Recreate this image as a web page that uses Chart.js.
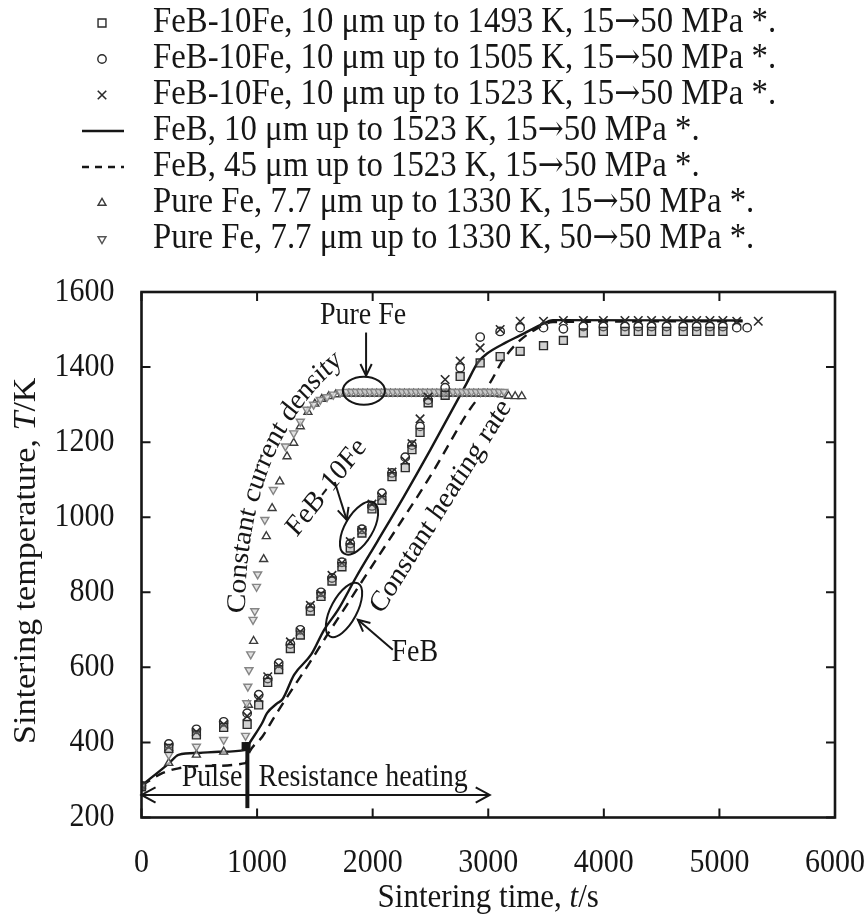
<!DOCTYPE html>
<html>
<head>
<meta charset="utf-8">
<script src="https://cdn.jsdelivr.net/npm/chart.js@4/dist/chart.umd.min.js"></script>
<style>
  html, body { margin: 0; padding: 0; background: #fff; }
  #wrap { width: 866px; height: 916px; }
</style>
</head>
<body>
<div id="wrap"><canvas id="c" width="866" height="916"></canvas></div>
<script>
// ---- axes ----
const X_MIN = 0, X_MAX = 6000, X_STEP = 1000;
const Y_MIN = 200, Y_MAX = 1600, Y_STEP = 200;

// ---- FeB-10Fe, 10 µm, up to 1493 K ----
const sq_t = [0, 236, 475, 711, 914, 1014, 1092, 1187, 1288, 1374, 1461, 1553, 1648, 1734, 1806, 1907, 1994, 2080, 2167, 2282, 2340, 2410, 2480, 2627, 2757, 2930, 3103, 3276, 3478, 3650, 3823, 3996, 4183, 4298, 4413, 4543, 4687, 4803, 4918, 5030];
const sq_T = [282, 384, 420, 440, 448, 500, 560, 594, 650, 686, 750, 789, 830, 868, 918, 958, 1022, 1045, 1108, 1132, 1180, 1226, 1305, 1325, 1375, 1411, 1428, 1442, 1457, 1471, 1491, 1495, 1495, 1495, 1495, 1495, 1495, 1495, 1495, 1495];

// ---- FeB-10Fe, 10 µm, up to 1505 K ----
const ci_t = [0, 236, 475, 711, 914, 1014, 1092, 1187, 1288, 1374, 1461, 1553, 1648, 1734, 1806, 1907, 1994, 2080, 2167, 2282, 2340, 2410, 2480, 2627, 2757, 2930, 3103, 3276, 3478, 3650, 3823, 3996, 4183, 4298, 4413, 4543, 4687, 4803, 4918, 5030, 5150, 5240];
const ci_T = [285, 396, 435, 455, 478, 527, 570, 611, 662, 700, 760, 800, 838, 880, 930, 968, 1030, 1064, 1118, 1160, 1192, 1242, 1312, 1345, 1398, 1480, 1495, 1505, 1505, 1502, 1508, 1508, 1508, 1508, 1508, 1508, 1508, 1508, 1508, 1508, 1505, 1505];

// ---- FeB-10Fe, 10 µm, up to 1523 K ----
const cr_t = [0, 236, 475, 711, 914, 1014, 1092, 1187, 1288, 1374, 1461, 1553, 1648, 1734, 1806, 1907, 1994, 2080, 2167, 2282, 2340, 2410, 2480, 2627, 2757, 2930, 3103, 3276, 3478, 3650, 3823, 3996, 4183, 4298, 4413, 4543, 4687, 4803, 4918, 5030, 5150, 5336];
const cr_T = [285, 388, 428, 448, 470, 518, 575, 605, 668, 695, 765, 795, 845, 878, 935, 965, 1035, 1055, 1120, 1150, 1196, 1262, 1320, 1367, 1416, 1451, 1500, 1522, 1522, 1524, 1524, 1524, 1524, 1524, 1524, 1524, 1524, 1524, 1524, 1524, 1522, 1522];

// ---- FeB, 10 µm (solid line) ----
const feb10_t = [0, 240, 320, 500, 670, 900, 930, 1043, 1086, 1173, 1220, 1320, 1470, 1580, 1700, 1860, 2040, 2270, 2500, 2815, 2910, 2990, 3150, 3280, 3450, 3560, 5200];
const feb10_T = [285, 345, 367, 372, 375, 380, 396, 451, 478, 504, 515, 580, 635, 700, 753, 842, 935, 1055, 1180, 1358, 1412, 1436, 1465, 1485, 1512, 1525, 1524];

// ---- FeB, 45 µm (dashed line) ----
const feb45_t = [0, 180, 320, 520, 900, 935, 1045, 1150, 1300, 1450, 1600, 1780, 1920, 2150, 2500, 2840, 3015, 3130, 3250, 3390, 3560, 5200];
const feb45_T = [285, 318, 331, 337, 345, 375, 415, 468, 540, 610, 683, 768, 835, 943, 1110, 1287, 1358, 1420, 1464, 1497, 1520, 1522];

// ---- Pure Fe, 7.7 µm, 15→50 MPa ----
const fe15_t = [0, 236, 475, 711, 905, 925, 970, 1057, 1080, 1130, 1196, 1259, 1317, 1374, 1440, 1500, 1560, 1620, 1680, 1740,
  1795, 1835, 1875, 1915, 1955, 1995, 2035, 2075, 2115, 2155, 2195, 2235, 2275, 2315, 2355, 2395, 2435, 2475, 2515, 2555,
  2595, 2635, 2675, 2715, 2755, 2795, 2835, 2875, 2915, 2955, 2995, 3035, 3075, 3115, 3175, 3233, 3290];
const fe15_T = [285, 345, 367, 375, 385, 500, 670, 888, 949, 1024, 1095, 1162, 1198, 1242, 1280, 1302, 1315, 1322, 1327, 1329,
  1329, 1329, 1329, 1329, 1329, 1329, 1329, 1329, 1329, 1329, 1329, 1329, 1329, 1329, 1329, 1329, 1329, 1329, 1329, 1329,
  1329, 1329, 1329, 1329, 1329, 1329, 1329, 1329, 1329, 1329, 1329, 1329, 1329, 1327, 1323, 1322, 1322];

// ---- Pure Fe, 7.7 µm, 50→50 MPa ----
const fe50_t = [0, 236, 475, 711, 900, 910, 920, 930, 945, 965, 980, 995, 1005, 1067, 1140, 1245, 1317, 1374, 1430, 1489, 1547, 1605, 1660, 1720,
  1775, 1815, 1855, 1895, 1935, 1975, 2015, 2055, 2095, 2135, 2175, 2215, 2255, 2295, 2335, 2375, 2415, 2455, 2495, 2535,
  2575, 2615, 2655, 2695, 2735, 2775, 2815, 2855, 2895, 2935, 2975, 3015, 3055, 3095, 3135];
const fe50_T = [285, 367, 389, 407, 418, 505, 549, 593, 635, 727, 750, 815, 848, 993, 1073, 1189, 1224, 1255, 1287, 1300, 1313, 1320, 1327, 1333,
  1334, 1334, 1334, 1334, 1334, 1334, 1334, 1334, 1334, 1334, 1334, 1334, 1334, 1334, 1334, 1334, 1334, 1334, 1334, 1334,
  1334, 1334, 1334, 1334, 1334, 1334, 1334, 1334, 1334, 1334, 1334, 1334, 1334, 1334, 1334];

const legendLabels = [
  'FeB-10Fe, 10 μm up to 1493 K, 15→50 MPa *.',
  'FeB-10Fe, 10 μm up to 1505 K, 15→50 MPa *.',
  'FeB-10Fe, 10 μm up to 1523 K, 15→50 MPa *.',
  'FeB, 10 μm up to 1523 K, 15→50 MPa *.',
  'FeB, 45 μm up to 1523 K, 15→50 MPa *.',
  'Pure Fe, 7.7 μm up to 1330 K, 15→50 MPa *.',
  'Pure Fe, 7.7 μm up to 1330 K, 50→50 MPa *.'
];

const SERIF = '"Liberation Serif", "Times New Roman", serif';
const ARROW_FONT = '"DejaVu Serif", "DejaVu Sans", serif';
const INK = '#161616';
const SY = 1.1;   // the lettering is set slightly tall and narrow

const pts = (t, T) => t.map((v, i) => ({ x: v, y: T[i] }));

function markerSet(label, t, T, style) {
  return Object.assign({
    label, data: pts(t, T), showLine: false, order: 1,
    borderWidth: 1.4, pointBorderWidth: 1.4, pointHoverRadius: 0,
    backgroundColor: 'rgba(255,255,255,0)'
  }, style);
}
function lineSet(label, t, T, dash) {
  return {
    label, data: pts(t, T), showLine: true, order: 4,
    borderColor: INK, borderWidth: 2.4, borderDash: dash,
    pointRadius: 0, tension: 0.25, cubicInterpolationMode: 'monotone'
  };
}

const datasets = [
  markerSet(legendLabels[0], sq_t, sq_T, { pointStyle: 'rect', pointRadius: 5.6, borderColor: '#2a2a2a', pointBackgroundColor: 'rgba(140,140,140,0.4)' }),
  markerSet(legendLabels[1], ci_t, ci_T, { pointStyle: 'circle', pointRadius: 4.2, borderColor: '#2a2a2a', pointBackgroundColor: 'rgba(255,255,255,0)' }),
  markerSet(legendLabels[2], cr_t, cr_T, { pointStyle: 'crossRot', pointRadius: 6, borderColor: '#2a2a2a', pointBorderWidth: 1.6 }),
  lineSet(legendLabels[3], feb10_t, feb10_T, []),
  lineSet(legendLabels[4], feb45_t, feb45_T, [10, 7]),
  markerSet(legendLabels[5], fe15_t, fe15_T, { pointStyle: 'triangle', pointRadius: 4.6, borderColor: '#3c3c3c', pointBackgroundColor: 'rgba(255,255,255,0.6)', order: 3 }),
  markerSet(legendLabels[6], fe50_t, fe50_T, { pointStyle: 'triangle', pointRotation: 180, pointRadius: 4.6, borderColor: '#858585', pointBackgroundColor: 'rgba(220,220,220,0.85)', order: 2 })
];

// ---- annotations, anchored in data units (angles as seen on the page) ----
const notes = [
  { kind: 'text', text: 'Pure Fe', t: 1917, T: 1535, size: 28 },
  { kind: 'arrow', from: [1943, 1492], to: [1943, 1377] },
  { kind: 'ellipse', t: 1924, T: 1337, rx: 21, ry: 14, rot: 0 },
  { kind: 'curve', text: 'Constant current density', p0: [832, 748], c: [849, 1207], p2: [1700, 1425], size: 27 },
  { kind: 'text', text: 'FeB-10Fe', t: 1602, T: 1079, rot: -52, size: 27 },
  { kind: 'arrow', from: [1672, 1094], to: [1775, 993] },
  { kind: 'ellipse', t: 1882, T: 971, rx: 29.5, ry: 14, rot: -60 },
  { kind: 'ellipse', t: 1752, T: 753, rx: 30, ry: 13, rot: -62 },
  { kind: 'arrow', from: [2174, 647], to: [1872, 727] },
  { kind: 'text', text: 'FeB', t: 2364, T: 639, size: 28 },
  { kind: 'text', text: 'Constant heating rate', t: 2591, T: 1028, rot: -58, size: 27 },
  { kind: 'text', text: 'Pulse', t: 610, T: 305, size: 28 },
  { kind: 'text', text: 'Resistance heating', t: 1917, T: 305, size: 28 },
  { kind: 'darrow', from: [0, 260], to: [3013, 260] },
  { kind: 'bar', t: 916, from: 401, to: 225, width: 4 },
  { kind: 'block', t: 905, T: 389, size: 9 }
];

function arrowHead(ctx, x0, y0, x1, y1, len, ang) {
  const a = Math.atan2(y1 - y0, x1 - x0);
  ctx.beginPath();
  ctx.moveTo(x1 - len * Math.cos(a - ang), y1 - len * Math.sin(a - ang));
  ctx.lineTo(x1, y1);
  ctx.lineTo(x1 - len * Math.cos(a + ang), y1 - len * Math.sin(a + ang));
  ctx.stroke();
}

// text at a page point, at a page angle, in tall lettering
function tallText(ctx, str, px, py, deg, align) {
  const th = (deg || 0) * Math.PI / 180;
  const th0 = Math.atan2(Math.sin(th) / SY, Math.cos(th));
  ctx.save();
  ctx.translate(px, py); ctx.scale(1, SY); ctx.rotate(th0);
  ctx.textAlign = align || 'center'; ctx.textBaseline = 'middle';
  ctx.fillText(str, 0, 0);
  ctx.restore();
}

// text laid along a quadratic curve given in page pixels
function textOnQuad(ctx, text, p0, c, p2) {
  const q = p => [p[0], p[1] / SY];
  const a0 = q(p0), ac = q(c), a2 = q(p2);
  const N = 400, P = [], S = [0];
  for (let i = 0; i <= N; i++) {
    const u = i / N, v = 1 - u;
    P.push([v * v * a0[0] + 2 * u * v * ac[0] + u * u * a2[0], v * v * a0[1] + 2 * u * v * ac[1] + u * u * a2[1]]);
    if (i) S.push(S[i - 1] + Math.hypot(P[i][0] - P[i - 1][0], P[i][1] - P[i - 1][1]));
  }
  ctx.save();
  ctx.scale(1, SY);
  const L = S[N], W = ctx.measureText(text).width;
  let s = (L - W) / 2;
  ctx.textAlign = 'center'; ctx.textBaseline = 'middle';
  for (const ch of text) {
    const w = ctx.measureText(ch).width, m = s + w / 2;
    let k = 1; while (k < N && S[k] < m) k++;
    const f = (m - S[k - 1]) / ((S[k] - S[k - 1]) || 1);
    const x = P[k - 1][0] + f * (P[k][0] - P[k - 1][0]);
    const y = P[k - 1][1] + f * (P[k][1] - P[k - 1][1]);
    const a = Math.atan2(P[k][1] - P[k - 1][1], P[k][0] - P[k - 1][0]);
    ctx.save(); ctx.translate(x, y); ctx.rotate(a); ctx.fillText(ch, 0, 0); ctx.restore();
    s += w;
  }
  ctx.restore();
}

// axis titles with an italic symbol
function richText(ctx, parts, size, cx, cy, rot) {
  ctx.save();
  ctx.translate(cx, cy); ctx.scale(1, SY); ctx.rotate(rot || 0);
  ctx.textBaseline = 'middle'; ctx.textAlign = 'left';
  const fonts = parts.map(p => (p.it ? 'italic ' : '') + size + 'px ' + SERIF);
  let W = 0;
  parts.forEach((p, i) => { ctx.font = fonts[i]; W += ctx.measureText(p.s).width; });
  let x = -W / 2;
  parts.forEach((p, i) => { ctx.font = fonts[i]; ctx.fillText(p.s, x, 0); x += ctx.measureText(p.s).width; });
  ctx.restore();
}

// legend label: serif text with the arrow glyph taken from DejaVu
function legendText(ctx, str, x, cy, size) {
  ctx.save();
  ctx.translate(x, cy); ctx.scale(1, SY);
  ctx.textAlign = 'left'; ctx.textBaseline = 'middle';
  const parts = str.split('→');
  let px = 0;
  parts.forEach((p, i) => {
    ctx.font = size + 'px ' + SERIF;
    ctx.fillText(p, px, 0); px += ctx.measureText(p).width;
    if (i < parts.length - 1) {
      ctx.font = (size * 0.95) + 'px ' + ARROW_FONT;
      ctx.fillText('→', px, 0); px += ctx.measureText('→').width;
    }
  });
  ctx.restore();
}

const framePlugin = {
  id: 'frameAndNotes',
  afterDatasetsDraw(chart) {
    const { ctx, chartArea: a, scales: { x, y } } = chart;
    const X = v => x.getPixelForValue(v), Y = v => y.getPixelForValue(v);
    ctx.save();
    ctx.strokeStyle = INK; ctx.fillStyle = INK; ctx.lineCap = 'butt';

    // plot frame with inward ticks on all four sides
    ctx.lineWidth = 2.6;
    ctx.strokeRect(a.left, a.top, a.right - a.left, a.bottom - a.top);
    ctx.lineWidth = 2;
    const TL = 9;
    x.ticks.forEach(tk => {
      const px = X(tk.value);
      ctx.beginPath(); ctx.moveTo(px, a.bottom); ctx.lineTo(px, a.bottom - TL);
      ctx.moveTo(px, a.top); ctx.lineTo(px, a.top + TL); ctx.stroke();
    });
    y.ticks.forEach(tk => {
      const py = Y(tk.value);
      ctx.beginPath(); ctx.moveTo(a.left, py); ctx.lineTo(a.left + TL, py);
      ctx.moveTo(a.right, py); ctx.lineTo(a.right - TL, py); ctx.stroke();
    });

    // tick labels from the scales' own ticks
    ctx.font = '30px ' + SERIF;
    x.ticks.forEach(tk => tallText(ctx, String(tk.value), X(tk.value), a.bottom + 46, 0, 'center'));
    y.ticks.forEach(tk => tallText(ctx, String(tk.value), a.left - 27, Y(tk.value), 0, 'right'));

    // annotations
    for (const n of notes) {
      ctx.lineWidth = 2;
      if (n.kind === 'text') {
        ctx.font = n.size + 'px ' + SERIF;
        tallText(ctx, n.text, X(n.t), Y(n.T), n.rot || 0, 'center');
      } else if (n.kind === 'curve') {
        ctx.font = n.size + 'px ' + SERIF;
        const p = q => [X(q[0]), Y(q[1])];
        textOnQuad(ctx, n.text, p(n.p0), p(n.c), p(n.p2));
      } else if (n.kind === 'arrow') {
        const x0 = X(n.from[0]), y0 = Y(n.from[1]), x1 = X(n.to[0]), y1 = Y(n.to[1]);
        ctx.beginPath(); ctx.moveTo(x0, y0); ctx.lineTo(x1, y1); ctx.stroke();
        arrowHead(ctx, x0, y0, x1, y1, 13, 0.45);
      } else if (n.kind === 'darrow') {
        const x0 = X(n.from[0]), y0 = Y(n.from[1]), x1 = X(n.to[0]), y1 = Y(n.to[1]);
        ctx.beginPath(); ctx.moveTo(x0, y0); ctx.lineTo(x1, y1); ctx.stroke();
        arrowHead(ctx, x0, y0, x1, y1, 16, 0.5);
        arrowHead(ctx, x1, y1, x0, y0, 16, 0.5);
      } else if (n.kind === 'ellipse') {
        ctx.beginPath();
        ctx.ellipse(X(n.t), Y(n.T), n.rx, n.ry, n.rot * Math.PI / 180, 0, Math.PI * 2);
        ctx.stroke();
      } else if (n.kind === 'bar') {
        ctx.lineWidth = n.width;
        ctx.beginPath(); ctx.moveTo(X(n.t), Y(n.from)); ctx.lineTo(X(n.t), Y(n.to)); ctx.stroke();
      } else if (n.kind === 'block') {
        ctx.fillRect(X(n.t) - n.size / 2, Y(n.T) - n.size / 2, n.size, n.size);
      }
    }
    ctx.restore();
  },
  afterDraw(chart) {
    const { ctx, chartArea: a } = chart;
    ctx.save();
    ctx.fillStyle = INK;
    // axis titles
    richText(ctx, [{ s: 'Sintering time, ' }, { s: 't', it: true }, { s: '/s' }], 31, (a.left + a.right) / 2, 898, 0);
    richText(ctx, [{ s: 'Sintering temperature, ' }, { s: 'T', it: true }, { s: '/K' }], 31, 27, (a.top + a.bottom) / 2 + 6, -Math.PI / 2);

    // legend: one entry per row
    const markerX = 102, textX = 153, firstY = 23, gap = 36;
    chart.data.datasets.forEach((ds, i) => {
      const cy = firstY + i * gap;
      ctx.strokeStyle = INK;
      if (ds.showLine) {
        ctx.lineWidth = 2.4;
        ctx.setLineDash(ds.borderDash && ds.borderDash.length ? [7, 6] : []);
        ctx.beginPath(); ctx.moveTo(82, cy); ctx.lineTo(124, cy); ctx.stroke();
        ctx.setLineDash([]);
      } else {
        ctx.strokeStyle = i === 6 ? '#555' : ds.borderColor;
        ctx.fillStyle = '#fff';
        ctx.lineWidth = ds.pointBorderWidth;
        Chart.helpers.drawPoint(ctx, {
          pointStyle: ds.pointStyle, rotation: ds.pointRotation || 0,
          radius: ds.pointRadius, borderWidth: ds.pointBorderWidth
        }, markerX, cy);
      }
      ctx.fillStyle = INK;
      legendText(ctx, ds.label, textX, cy, 32.8);
    });
    ctx.restore();
  }
};

Chart.defaults.font.family = SERIF;
Chart.defaults.color = INK;

new Chart(document.getElementById('c'), {
  type: 'scatter',
  data: { datasets },
  options: {
    responsive: false,
    animation: false,
    events: [],
    layout: { padding: { top: 292, right: 31, left: 0, bottom: 0 } },
    plugins: { legend: { display: false }, tooltip: { enabled: false } },
    scales: {
      x: {
        type: 'linear', min: X_MIN, max: X_MAX,
        ticks: { stepSize: X_STEP, display: false },
        grid: { display: false, drawTicks: false },
        border: { display: false },
        afterFit: s => { s.height = 98.5; s.paddingLeft = 0; s.paddingRight = 0; }
      },
      y: {
        type: 'linear', min: Y_MIN, max: Y_MAX,
        ticks: { stepSize: Y_STEP, display: false },
        grid: { display: false, drawTicks: false },
        border: { display: false },
        afterFit: s => { s.width = 141.5; s.paddingTop = 0; s.paddingBottom = 0; }
      }
    }
  },
  plugins: [framePlugin]
});
</script>
</body>
</html>
